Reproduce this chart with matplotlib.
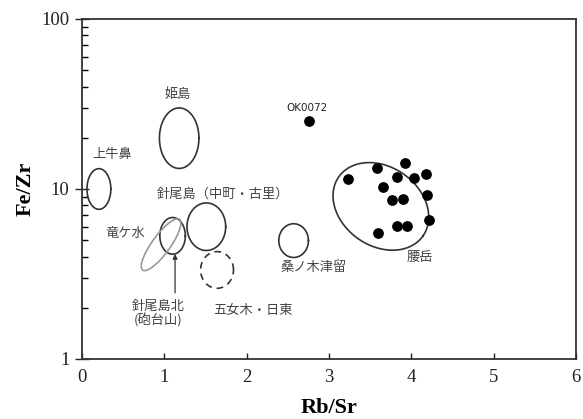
import numpy as np
import matplotlib
matplotlib.use("Agg")
import matplotlib.pyplot as plt
from matplotlib.ticker import FixedLocator, FixedFormatter, LogLocator, NullFormatter

plt.rcParams['font.family'] = ['Noto Sans CJK JP', 'DejaVu Sans']

# 腰岳 samples (Rb/Sr, Fe/Zr)
koshi_rbsr = [3.23, 3.58, 3.92, 3.82, 4.03, 4.18, 3.66, 4.19, 3.77, 3.90, 4.22, 3.82, 3.95, 3.60]
koshi_fezr = [11.4, 13.3, 14.3, 11.8, 11.6, 12.2, 10.3, 9.25, 8.57, 8.75, 6.6, 6.08, 6.08, 5.49]

# OK0072
ok_rbsr = [2.76]
ok_fezr = [25.0]

# source fields: centre x, centre y, width, height (in x-units), angle, style
field_names = ['上牛鼻', '姫島', '針尾島中町', '針尾島北', '竜ケ水', '五女木', '桑ノ木津留', '腰岳']
field_cx = [0.205, 1.18, 1.51, 1.10, 0.96, 1.64, 2.57, 3.63]
field_cy = [10.0, 19.9, 6.0, 5.3, 4.7, 3.34, 4.97, 7.9]
field_w = [0.29, 0.48, 0.47, 0.31, 0.76, 0.40, 0.36, 1.25]
field_h = [0.494, 0.735, 0.578, 0.446, 0.22, 0.446, 0.41, 0.96]
field_ang = [0, 0, 0, 0, 54, 0, 0, -35]
field_color = ['#333333'] * 4 + ['#999999'] + ['#333333'] * 3
field_ls = ['-', '-', '-', '-', '-', (0, (4, 3)), '-', '-']

fig = plt.figure(figsize=(5.83, 4.19), dpi=100)
ax = fig.add_axes([0.1407, 0.1432, 0.8473, 0.8115])
ax.set_yscale('log')
ax.set_xlim(0, 6)
ax.set_ylim(1, 100)

# display size of one decade relative to one x unit
bbox = ax.get_position()
fw, fh = fig.get_size_inches()
kx = bbox.width * fw / 6.0
ky = bbox.height * fh / 2.0
ratio = kx / ky

t = np.linspace(0, 2 * np.pi, 300)
for cx, cy, w, h, ang, col, ls in zip(field_cx, field_cy, field_w, field_h,
                                      field_ang, field_color, field_ls):
    a = np.deg2rad(ang)
    u = w / 2 * np.cos(t)
    v = h / 2 * np.sin(t)
    du = u * np.cos(a) - v * np.sin(a)
    dv = u * np.sin(a) + v * np.cos(a)
    xs = cx + du
    ys = 10 ** (np.log10(cy) + dv * ratio)
    ax.plot(xs, ys, color=col, lw=1.2, ls=ls)

ax.scatter(koshi_rbsr, koshi_fezr, s=45, color='black', zorder=3)
ax.scatter(ok_rbsr, ok_fezr, s=45, color='black', zorder=3)

txt = dict(color='#444444', fontsize=9.5, ha='center', va='center')
ax.text(0.37, 15.9, '上牛鼻', **txt)
ax.text(1.16, 36, '姫島', **txt)
ax.text(1.71, 9.3, '針尾島（中町・古里）', **txt)
ax.text(0.52, 5.5, '竜ケ水', **txt)
ax.text(0.92, 1.85, '針尾島北\n(砲台山)', linespacing=1.1, **txt)
ax.text(2.08, 1.93, '五女木・日東', **txt)
ax.text(2.81, 3.44, '桑ノ木津留', **txt)
ax.text(4.10, 3.94, '腰岳', **txt)
ax.text(2.73, 29.9, 'OK0072', color='#222222', fontsize=7.5, ha='center',
        va='center', family='DejaVu Sans')

ax.annotate('', xy=(1.13, 4.15), xytext=(1.13, 2.45),
            arrowprops=dict(arrowstyle='-|>', color='#333333', lw=0.9,
                            mutation_scale=7, shrinkA=0, shrinkB=0))

# axes styling
for s in ax.spines.values():
    s.set_linewidth(1.3)
    s.set_color('#333333')

ax.set_xticks([0, 1, 2, 3, 4, 5, 6])
ax.set_xticklabels(['0', '1', '2', '3', '4', '5', '6'])
ax.tick_params(axis='x', direction='in', length=4, width=1, pad=7,
               labelsize=13.5, colors='#222222')
ax.yaxis.set_major_locator(FixedLocator([1, 10, 100]))
ax.yaxis.set_major_formatter(FixedFormatter(['1', '10', '100']))
ax.yaxis.set_minor_locator(LogLocator(base=10, subs=np.arange(2, 10)))
ax.yaxis.set_minor_formatter(NullFormatter())
ax.tick_params(axis='y', which='major', direction='inout', length=10, width=1,
               pad=4, labelsize=13.5, colors='#222222')
ax.tick_params(axis='y', which='minor', direction='in', length=4, width=1)
for lab in ax.get_xticklabels() + ax.get_yticklabels():
    lab.set_family('Liberation Serif')

ax.set_xlabel('Rb/Sr', family='Liberation Serif', fontweight='bold',
              fontsize=16, labelpad=9)
ax.set_ylabel('Fe/Zr', family='Liberation Serif', fontweight='bold',
              fontsize=16, labelpad=4)

fig.savefig('out.png', dpi=100)
